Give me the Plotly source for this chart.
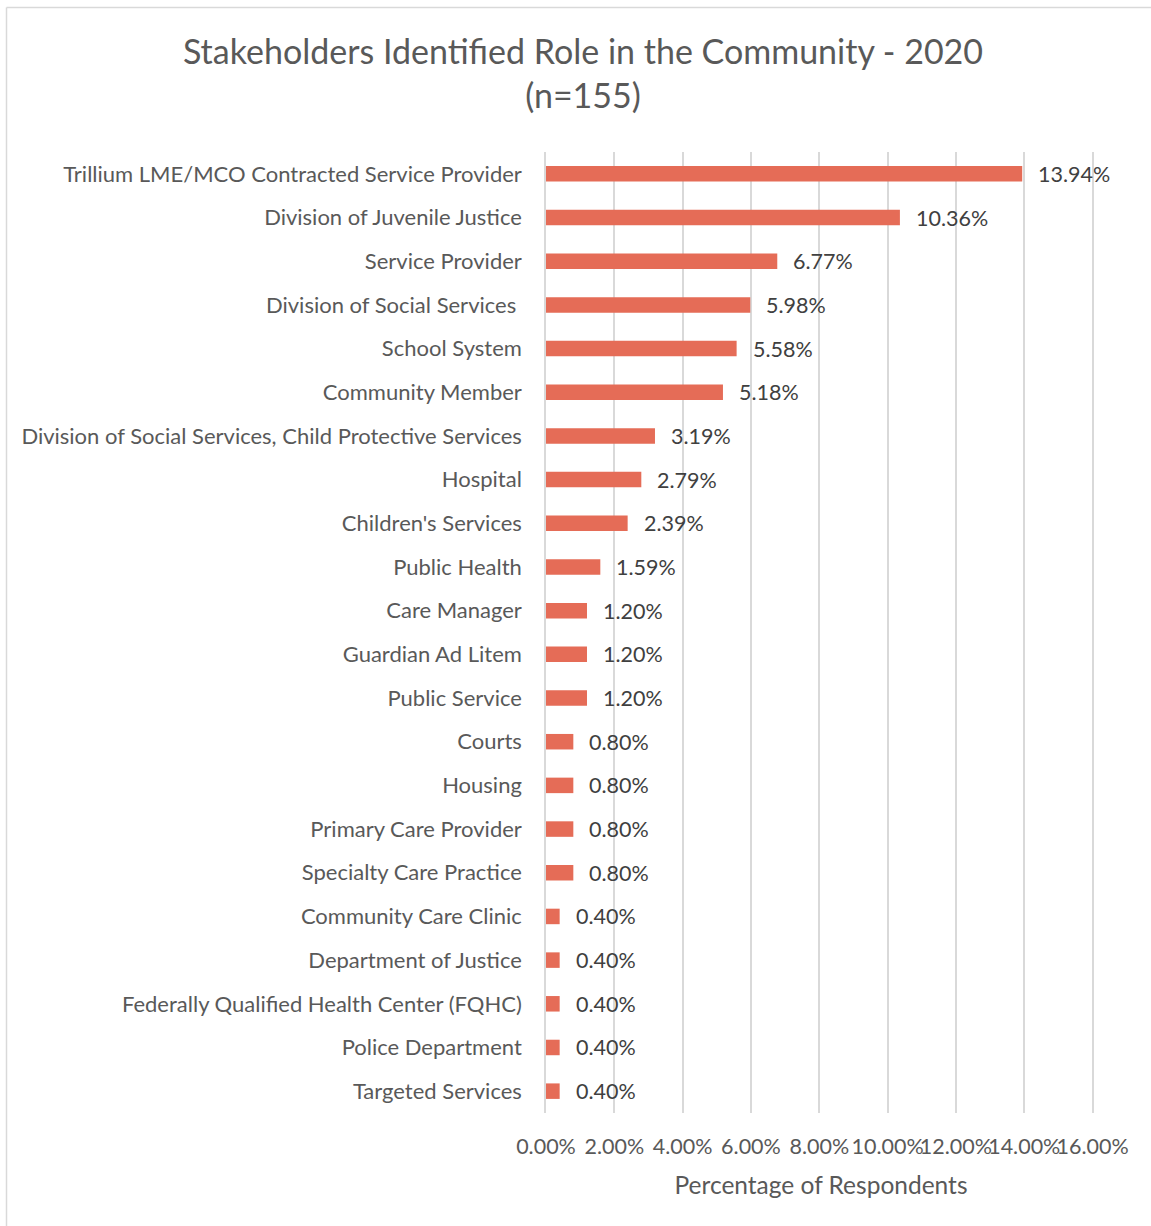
import plotly.graph_objects as go

# Survey roles, listed top to bottom as drawn
categories = [
    "Trillium LME/MCO Contracted Service Provider",
    "Division of Juvenile Justice",
    "Service Provider",
    "Division of Social Services\u00a0",
    "School System",
    "Community Member",
    "Division of Social Services, Child Protective Services",
    "Hospital",
    "Children's Services",
    "Public Health",
    "Care Manager",
    "Guardian Ad Litem",
    "Public Service",
    "Courts",
    "Housing",
    "Primary Care Provider",
    "Specialty Care Practice",
    "Community Care Clinic",
    "Department of Justice",
    "Federally Qualified Health Center (FQHC)",
    "Police Department",
    "Targeted Services",
]
percentages = [13.94, 10.36, 6.77, 5.98, 5.58, 5.18, 3.19, 2.79, 2.39, 1.59,
               1.20, 1.20, 1.20, 0.80, 0.80, 0.80, 0.80, 0.40, 0.40, 0.40, 0.40, 0.40]
tick_values = [0, 2, 4, 6, 8, 10, 12, 14, 16]
tick_labels = [f"{v:.2f}%" for v in tick_values]

W, H = 1151, 1226
X_MAX = 16.1  # a little past the last gridline so it stays visible
L, R, T, B = 546, 1151 - 546 - round(547 * X_MAX / 16), 152, 113
FONT = "Lato, 'Open Sans', sans-serif"
BAR = "#E56C57"

fig = go.Figure(go.Bar(
    x=percentages,
    y=categories,
    orientation="h",
    marker=dict(color=BAR, line=dict(width=0)),
    width=0.355,
    hoverinfo="skip",
))

# Value labels to the right of each bar
for cat, val in zip(categories, percentages):
    fig.add_annotation(
        x=val, y=cat, text=f"{val:.2f}%", showarrow=False,
        xanchor="left", yanchor="middle", xshift=14,
        font=dict(family=FONT, size=21.5, color="#404040"),
    )

# Chart frame (left and top edges)
def px_x(p):
    return (p - L) / (W - L - R)

def px_y(p):
    return (H - B - p) / (H - T - B)

frame = dict(color="#D9D9D9", width=1.5)
fig.add_shape(type="line", xref="paper", yref="paper",
              x0=px_x(6.5), x1=px_x(6.5), y0=px_y(7.5), y1=px_y(H + 5), line=frame)
fig.add_shape(type="line", xref="paper", yref="paper",
              x0=px_x(6.5), x1=px_x(W + 5), y0=px_y(7.5), y1=px_y(7.5), line=frame)

fig.update_layout(
    width=W, height=H,
    margin=dict(l=L, r=R, t=T, b=B),
    paper_bgcolor="white", plot_bgcolor="white",
    showlegend=False,
    title=dict(
        text="Stakeholders Identified Role in the Community - 2020<br>(n=155)",
        x=583 / W, xanchor="center", xref="container",
        y=1 - 64 / H, yanchor="middle", yref="container",
        font=dict(family=FONT, size=34, color="#595959"),
    ),
    font=dict(family=FONT, color="#595959"),
)
fig.update_xaxes(
    range=[0, X_MAX], tickvals=tick_values, ticktext=tick_labels,
    tickangle=0,
    showgrid=True, gridcolor="#D9D9D9", gridwidth=1.5,
    zeroline=False, showline=False, ticks="",
    tickfont=dict(family=FONT, size=21.5, color="#595959"),
    ticklabelstandoff=18,
    title=dict(text="Percentage of Respondents", standoff=19,
               font=dict(family=FONT, size=24.5, color="#595959")),
    fixedrange=True,
)
fig.update_yaxes(
    autorange="reversed", showgrid=False, zeroline=False,
    showline=True, linecolor="#D9D9D9", linewidth=1.5, ticks="",
    tickfont=dict(family=FONT, size=22, color="#595959"),
    ticklabelstandoff=18,
    fixedrange=True,
)

fig.write_html("out.html")
